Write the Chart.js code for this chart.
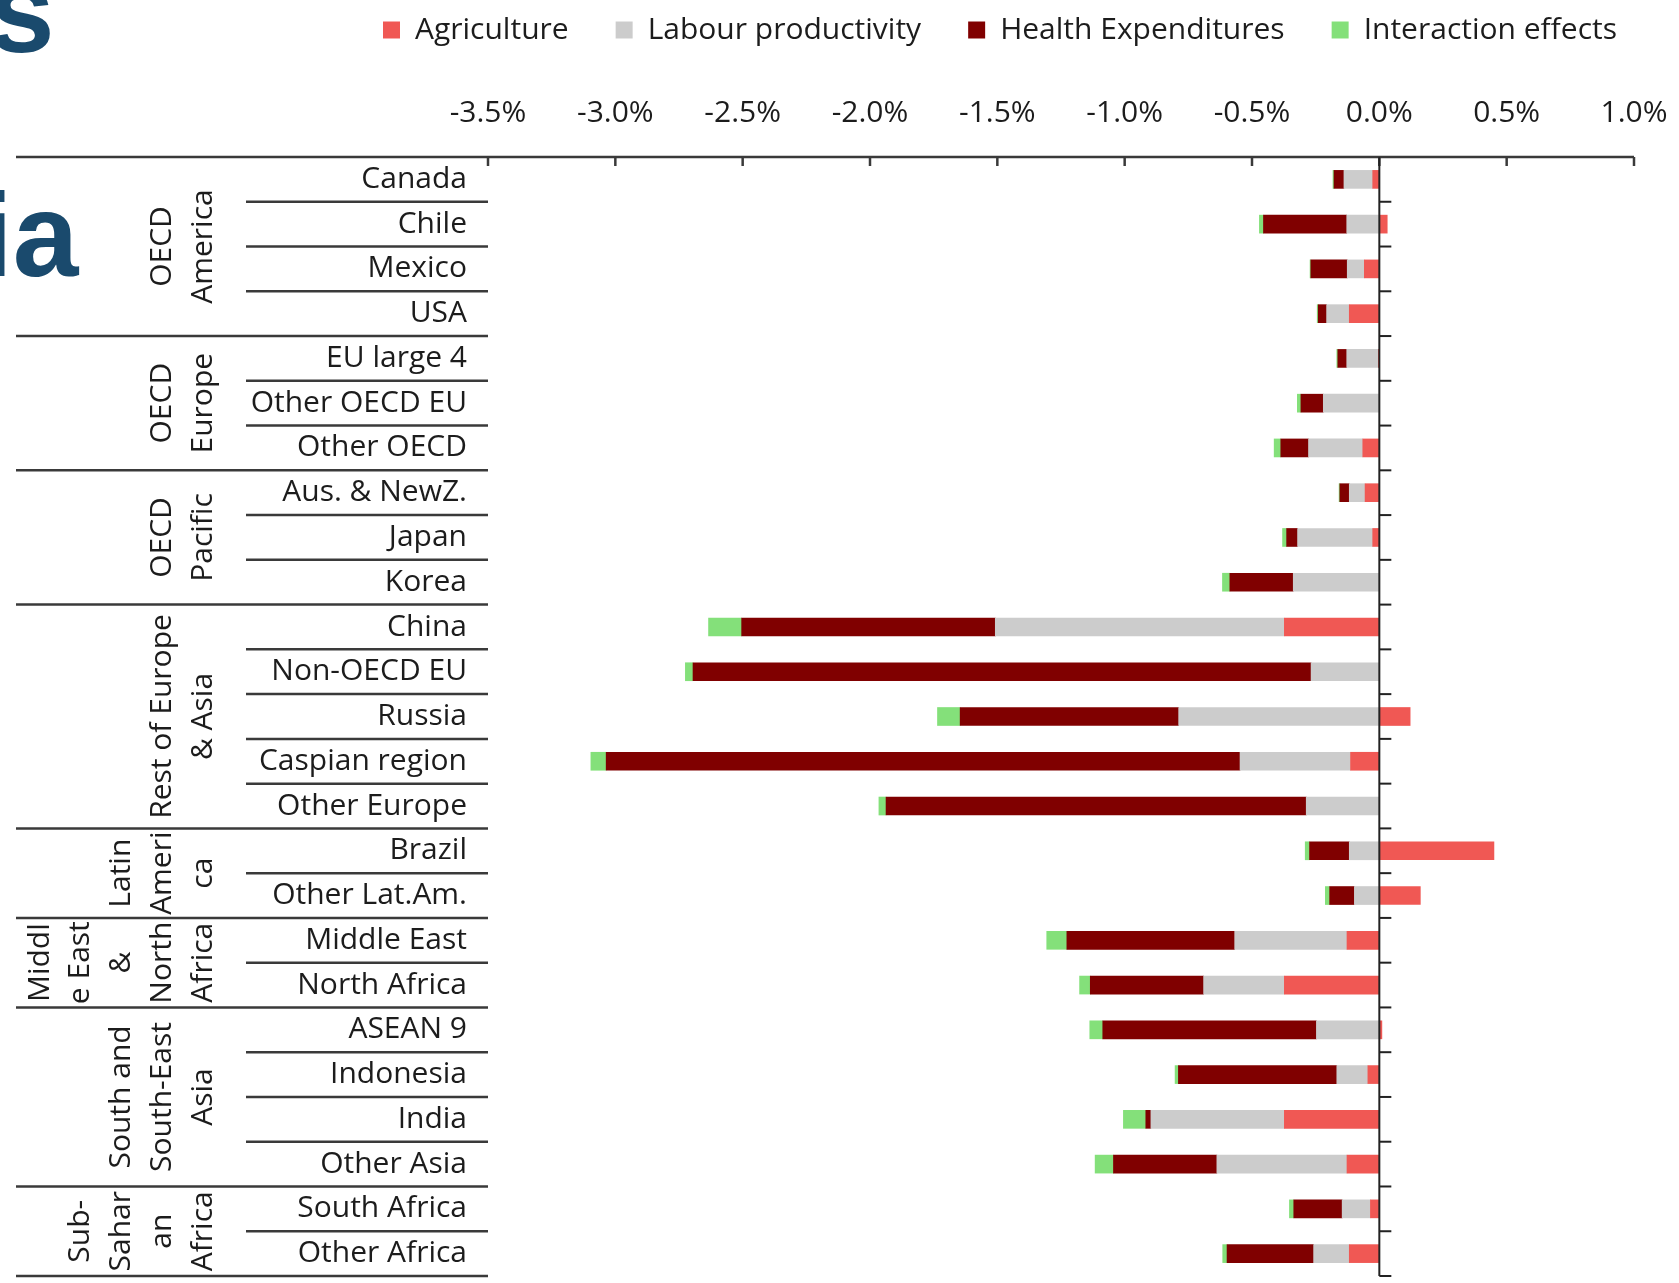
<!DOCTYPE html>
<html>
<head>
<meta charset="utf-8">
<script src="https://cdn.jsdelivr.net/npm/chart.js@4.4.1/dist/chart.umd.min.js"></script>
<style>
  body { margin: 0; background: #fff; }
  #wrap { position: relative; width: 1679px; height: 1283px; overflow: hidden; }
  #box { position: absolute; left: 0; top: 0; width: 1679px; height: 1283px; }
  .frag { position: absolute; font-family: "Liberation Sans", Arial, sans-serif; font-weight: bold;
          font-size: 118px; line-height: 118px; color: #1a4a6d; white-space: nowrap; }
</style>
</head>
<body>
<div id="wrap">
  <div class="frag" style="left:-11px; top:-48px;">s</div>
  <div class="frag" style="left:-20px; top:176px;">ia</div>
  <div id="box"><canvas id="myChart"></canvas></div>
</div>
<script>
// regions / countries, top to bottom
var categories = ['Canada', 'Chile', 'Mexico', 'USA', 'EU large 4', 'Other OECD EU', 'Other OECD',
  'Aus. & NewZ.', 'Japan', 'Korea', 'China', 'Non-OECD EU', 'Russia', 'Caspian region', 'Other Europe',
  'Brazil', 'Other Lat.Am.', 'Middle East', 'North Africa', 'ASEAN 9', 'Indonesia', 'India',
  'Other Asia', 'South Africa', 'Other Africa'];

// group label lines and the rows they cover
var groupLines = [['OECD', 'America'], ['OECD', 'Europe'], ['OECD', 'Pacific'], ['Rest of Europe', '& Asia'],
  ['Latin', 'Ameri', 'ca'], ['Middl', 'e East', '&', 'North', 'Africa'], ['South and', 'South-East', 'Asia'],
  ['Sub-', 'Sahar', 'an', 'Africa']];
var groupStart = [0, 4, 7, 10, 15, 17, 19, 23];
var groupEnd = [3, 6, 9, 14, 16, 18, 22, 24];

// values in %
var agriculture = [-0.026, 0.031, -0.059, -0.118, -0.004, 0, -0.065, -0.056, -0.026, 0,
  -0.373, 0, 0.121, -0.113, 0, 0.45, 0.161, -0.127, -0.373, 0.01, -0.045, -0.373, -0.127, -0.035, -0.118];
var labour = [-0.113, -0.128, -0.067, -0.089, -0.124, -0.22, -0.213, -0.062, -0.295, -0.338,
  -1.135, -0.268, -0.788, -0.434, -0.287, -0.118, -0.098, -0.441, -0.317, -0.247, -0.122, -0.524, -0.511, -0.111, -0.14];
var health = [-0.039, -0.327, -0.143, -0.033, -0.035, -0.088, -0.109, -0.037, -0.043, -0.249,
  -0.996, -2.427, -0.858, -2.489, -1.65, -0.156, -0.097, -0.659, -0.445, -0.839, -0.622, -0.02, -0.406, -0.19, -0.34];
var interaction = [-0.004, -0.016, -0.003, -0.004, -0.004, -0.014, -0.026, -0.003, -0.016, -0.029,
  -0.13, -0.03, -0.089, -0.06, -0.028, -0.017, -0.017, -0.079, -0.042, -0.051, -0.013, -0.088, -0.072, -0.017, -0.017];

var xMin = -3.5, xMax = 1.0, xStep = 0.5;

var font = { family: '"Open Sans", "Noto Sans", sans-serif', size: 30 };
var ink = '#1c1c1c';
var lineCol = '#3a3a3a';

// table rules, group labels, zero line and inner tick marks
var tablePlugin = {
  id: 'table',
  afterDraw: function (chart) {
    var ctx = chart.ctx, area = chart.chartArea;
    var x = chart.scales.x, y = chart.scales.y;
    var n = categories.length;
    ctx.save();
    ctx.strokeStyle = lineCol;
    ctx.lineWidth = 2.5;
    function seg(x1, y1, x2, y2) {
      ctx.beginPath(); ctx.moveTo(x1, y1); ctx.lineTo(x2, y2); ctx.stroke();
    }
    // top axis line + ticks pointing down
    seg(16, area.top, area.right, area.top);
    x.ticks.forEach(function (t) {
      var px = x.getPixelForValue(t.value);
      seg(px, area.top, px, area.top + 9);
    });
    // row separators
    for (var i = 1; i <= n; i++) {
      var yb = y.getPixelForValue(i - 0.5);
      var full = i === n || groupStart.indexOf(i) >= 0;
      seg(full ? 16 : 246, yb, area.left, yb);
    }
    // zero line with ticks to the right
    var x0 = x.getPixelForValue(0);
    ctx.lineWidth = 2;
    ctx.strokeStyle = '#222';
    seg(x0, area.top, x0, area.bottom);
    for (var j = 1; j <= n; j++) {
      var yt = y.getPixelForValue(j - 0.5);
      seg(x0, yt, x0 + 12, yt);
    }
    // rotated group labels
    ctx.fillStyle = ink;
    ctx.font = font.size + 'px ' + font.family;
    ctx.textAlign = 'center';
    ctx.textBaseline = 'middle';
    groupLines.forEach(function (lines, g) {
      var yc = (y.getPixelForValue(groupStart[g] - 0.5) + y.getPixelForValue(groupEnd[g] + 0.5)) / 2;
      lines.forEach(function (txt, k) {
        var xc = 203 - 40.7 * (lines.length - 1 - k);
        ctx.save();
        ctx.translate(xc, yc);
        ctx.rotate(-Math.PI / 2);
        ctx.fillText(txt, 0, 0);
        ctx.restore();
      });
    });
    ctx.restore();
  }
};

var ctx = document.getElementById('myChart');
new Chart(ctx, {
  type: 'bar',
  data: {
    labels: categories,
    datasets: [
      { label: 'Agriculture', data: agriculture, backgroundColor: 'rgb(240, 88, 84)' },
      { label: 'Labour productivity', data: labour, backgroundColor: 'rgb(204, 204, 204)' },
      { label: 'Health Expenditures', data: health, backgroundColor: 'rgb(128, 0, 0)' },
      { label: 'Interaction effects', data: interaction, backgroundColor: 'rgb(132, 224, 122)' }
    ]
  },
  options: {
    indexAxis: 'y',
    responsive: true,
    maintainAspectRatio: false,
    animation: false,
    datasets: { bar: { barThickness: 18, borderWidth: 0 } },
    layout: { padding: { top: -32, left: 0, right: 15, bottom: 7 } },
    plugins: {
      tooltip: { enabled: false },
      legend: {
        position: 'top',
        align: 'end',
        labels: { font: font, color: ink, boxWidth: 17, boxHeight: 17, padding: 47 }
      }
    },
    scales: {
      x: {
        position: 'top',
        stacked: true,
        min: xMin,
        max: xMax,
        grid: { display: false, drawTicks: false },
        border: { display: false },
        ticks: {
          stepSize: xStep,
          font: font,
          color: ink,
          padding: 26,
          maxRotation: 0,
          callback: function (v) { return v.toFixed(1) + '%'; }
        },
        afterFit: function (s) { s.height = 102; s.paddingLeft = 0; s.paddingRight = 45; }
      },
      y: {
        stacked: true,
        grid: { display: false, drawTicks: false },
        border: { display: false },
        ticks: { font: font, color: ink, padding: 21, autoSkip: false },
        afterFit: function (s) { s.width = 488; s.paddingTop = 0; s.paddingBottom = 0; }
      }
    }
  },
  plugins: [tablePlugin]
});
</script>
</body>
</html>
